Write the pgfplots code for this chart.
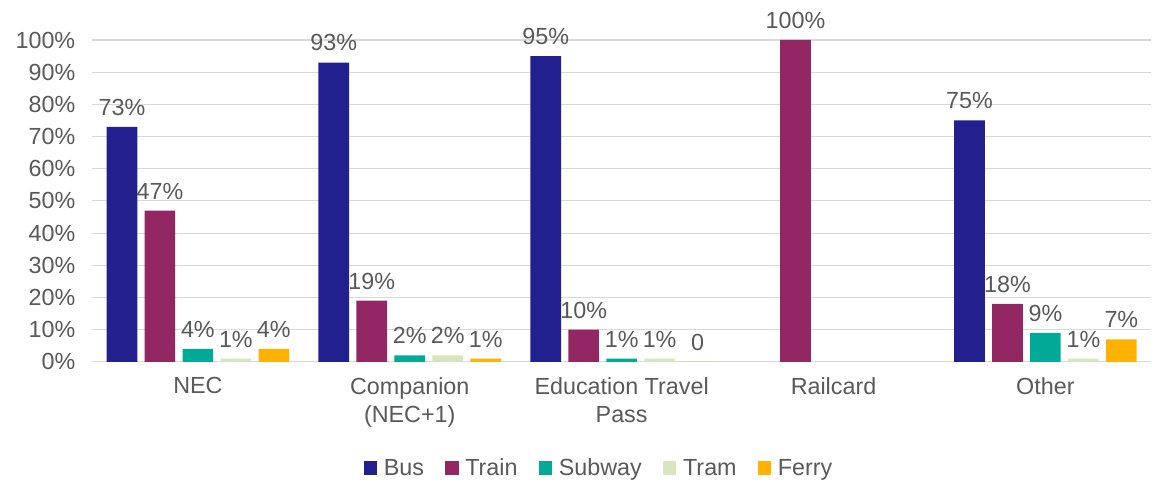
\documentclass[border=0pt]{standalone}
\usepackage{pgfplots}
\pgfplotsset{compat=1.18}
\usepackage{fontspec}
\setmainfont{Liberation Sans}
\definecolor{cBus}{RGB}{34,31,143}
\definecolor{cTrain}{RGB}{146,39,100}
\definecolor{cSubway}{RGB}{0,170,150}
\definecolor{cTram}{RGB}{215,228,189}
\definecolor{cFerry}{RGB}{255,178,0}
\definecolor{txt}{RGB}{89,89,89}
\definecolor{grd}{RGB}{217,217,217}
\begin{document}
\begin{tikzpicture}
\begin{axis}[
  scale only axis, width=795pt, height=241.5pt,
  ybar=5.5pt, bar width=23pt,
  xmin=-0.5, xmax=4.5, ymin=0, ymax=100,
  xtick={0,1,2,3,4},
  xticklabels={NEC,{Companion\\(NEC+1)},{Education Travel\\Pass},Railcard,Other},
  xticklabel style={align=center, text=txt, font=\fontsize{17.5}{21}\selectfont, yshift=-8pt},
  ytick={0,10,...,100},
  yticklabel={\pgfmathprintnumber{\tick}\%},
  yticklabel style={text=txt, font=\fontsize{17.5}{20}\selectfont, xshift=-9pt},
  /pgf/number format/assume math mode=true,
  major tick length=0pt,
  axis x line*=bottom, axis y line*=left,
  x axis line style={grd, line width=1pt, -},
  y axis line style={draw=none},
  ymajorgrids, grid style={grd, line width=0.8pt},
  nodes near coords,
  point meta=explicit symbolic,
  every node near coord/.append style={text=txt, font=\fontsize{17.5}{20}\selectfont, yshift=5pt},
  legend columns=5,
  legend style={at={(0.479,-0.33)}, anchor=center, draw=none, fill=none,
    font=\fontsize{17.5}{20}\selectfont, text=txt,
    /tikz/every even column/.append style={column sep=14pt}},
  legend image code/.code={\fill[#1] (0pt,-5pt) rectangle (10pt,5pt); \path (13pt,0pt);},
  clip=false,
]
\addplot[fill=cBus, draw=none] coordinates {(0,73) [73\%] (1,93) [93\%] (2,95) [95\%] (4,75) [75\%]};
\addplot[fill=cTrain, draw=none] coordinates {(0,47) [47\%] (1,19) [19\%] (2,10) [10\%] (3,100) [100\%] (4,18) [18\%]};
\addplot[fill=cSubway, draw=none] coordinates {(0,4) [4\%] (1,2) [2\%] (2,1) [1\%] (4,9) [9\%]};
\addplot[fill=cTram, draw=none] coordinates {(0,1) [1\%] (1,2) [2\%] (2,1) [1\%] (4,1) [1\%]};
\addplot[fill=cFerry, draw=none] coordinates {(0,4) [4\%] (1,1) [1\%] (2,0) [0] (4,7) [7\%]};
\legend{Bus,Train,Subway,Tram,Ferry}
\end{axis}
\pgfresetboundingbox
\path[use as bounding box] (-69pt,-88.5pt) rectangle (797pt,271.5pt);
\end{tikzpicture}
\end{document}
